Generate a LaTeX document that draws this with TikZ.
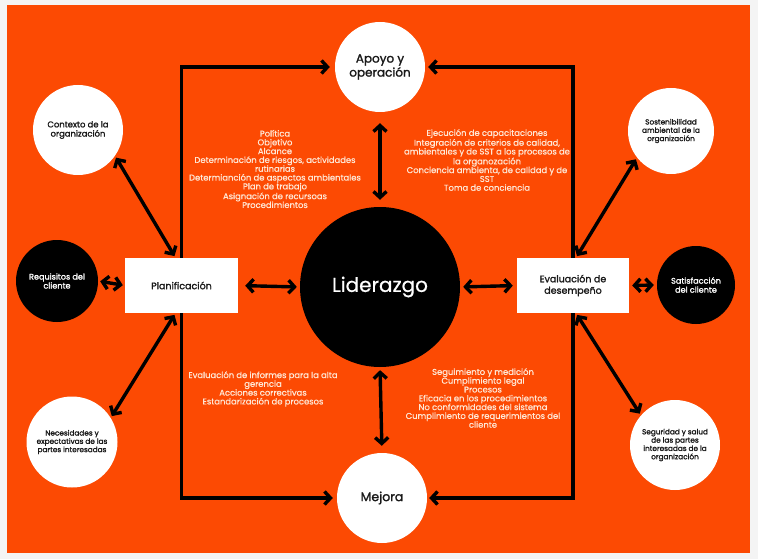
\documentclass[tikz,border=0pt]{standalone}
\usepackage{fontspec}
\setmainfont{Poppins}
\newfontfamily\medf{Poppins}[FakeBold=0.7]
\newfontfamily\semif{Poppins}[FakeBold=1.6]
\usetikzlibrary{arrows.meta,calc}
\definecolor{bgorange}{RGB}{252,74,3}
\definecolor{paletxt}{RGB}{255,232,214}
\definecolor{darktxt}{RGB}{25,25,25}
\definecolor{pagegray}{RGB}{244,244,244}
\tikzset{
  wcirc/.style={circle,fill=white,draw=none,align=center,text=darktxt,inner sep=0pt},
  bcirc/.style={circle,fill=black,draw=none,align=center,text=white,inner sep=0pt},
  wbox/.style={rectangle,fill=white,draw=none,align=center,text=darktxt,inner sep=0pt},
  smalllbl/.style={font=\semif\fontsize{7.3}{8.3}\selectfont},
  infotxt/.style={align=center,text=paletxt,font=\medf\fontsize{8.4}{8.8}\selectfont,inner sep=0pt},
  conn/.style={line width=3.4pt,draw=black},
  sarr/.style={conn,-{Straight Barb[length=6pt,width=13pt,line width=3.4pt]}},
  darr/.style={conn,{Straight Barb[length=6pt,width=13pt,line width=3.4pt]}-{Straight Barb[length=6pt,width=13pt,line width=3.4pt]}},
}
\begin{document}
\begin{tikzpicture}[x=1pt,y=-1pt]
\useasboundingbox (0,0) rectangle (758,559);
\fill[pagegray] (0,0) rectangle (758,559);
\fill[bgorange] (7,5) rectangle (750,553);

% main nodes
\node[wcirc,minimum size=90pt,font=\semif\fontsize{12}{14}\selectfont] (apoyo) at (380,67) {Apoyo y\\operación};
\node[bcirc,minimum size=160pt,font=\medf\fontsize{20}{22}\selectfont] (lid) at (380,287) {Liderazgo};
\node[wcirc,minimum size=90pt,font=\semif\fontsize{12.5}{14}\selectfont] (mejora) at (382,498) {Mejora};
\node[wbox,minimum width=113pt,minimum height=55pt,font=\semif\fontsize{9.5}{11.5}\selectfont] (plan) at (181.5,285.5) {Planificación};
\node[wbox,minimum width=112pt,minimum height=55pt,font=\semif\fontsize{9.5}{11.5}\selectfont] (eval) at (573,285.5) {Evaluación de\\desempeño};

% satellites
\node[wcirc,minimum size=90pt,font=\semif\fontsize{8.4}{9.2}\selectfont] (ctx) at (78,130) {Contexto de la\\organización};
\node[bcirc,minimum size=82pt,font=\semif\fontsize{8.1}{9}\selectfont] (req) at (57,281) {Requisitos del\\cliente};
\node[wcirc,smalllbl,minimum size=91pt] (nec) at (72,442) {Necesidades y\\expectativas de las\\partes interesadas};
\node[wcirc,smalllbl,minimum size=86pt] (sost) at (671,131) {Sostenibilidad\\ambiental de la\\organización};
\node[bcirc,minimum size=78pt,font=\semif\fontsize{8.1}{9}\selectfont] (sat) at (696,285) {Satisfacción\\del cliente};
\node[wcirc,smalllbl,minimum size=90pt] (seg) at (675,445) {Seguridad y salud\\de las partes\\interesadas de la\\organización};

% info texts
\node[infotxt] (t1) at (275,169) {Política\\Objetivo\\Alcance\\Determinación de riesgos, actividades\\rutinarias\\Determianción de aspectos ambientales\\Plan de trabajo\\Asignación de recursoas\\Procedimientos};
\node[infotxt] (t2) at (487,160) {Ejecución de capacitaciones\\Integración de criterios de calidad,\\ambientales y de SST a los procesos de\\la organozación\\Conciencia ambienta, de calidad y de\\SST\\Toma de conciencia};
\node[infotxt] (t3) at (263,389) {Evaluación de informes para la alta\\gerencia\\Acciones correctivas\\Estandarización de procesos};
\node[infotxt] (t4) at (483,398) {Seguimiento y medición\\Cumplimiento legal\\Procesos\\Eficacia en los procedimientos\\No conformidades del sistema\\Cumplimiento de requerimientos del\\cliente};

% elbow connectors
\draw[sarr,shorten >=5pt] (plan.north) |- (apoyo.west);
\draw[sarr,shorten >=3pt] (eval.north) |- (apoyo.east);
\draw[sarr,shorten >=4pt] (plan.south) |- (mejora.west);
\draw[sarr,shorten >=2pt] (eval.south) |- (mejora.east);

% straight double arrows
\draw[darr,shorten <=11pt,shorten >=7pt] (apoyo.south) -- (lid.north);
\draw[darr,shorten <=3pt,shorten >=7pt] (lid.south) -- (mejora.north);
\draw[darr,shorten <=7pt,shorten >=3pt] (plan.east) -- (lid.west);
\draw[darr,shorten <=3pt,shorten >=4pt] (lid.east) -- (eval.west);
\draw[darr,shorten <=2pt,shorten >=2pt] (req.east) -- (plan.west);
\draw[darr,shorten <=3pt,shorten >=3pt] (eval.east) -- (sat.west);

% diagonal double arrows
\draw[darr,shorten <=2pt,shorten >=2pt] (ctx.-35) -- ([xshift=-6pt]plan.north);
\draw[darr,shorten <=2pt,shorten >=2pt] (nec.32) -- ([xshift=-6pt]plan.south);
\draw[darr,shorten <=2pt,shorten >=2pt] (sost.218) -- ([xshift=3pt]eval.north);
\draw[darr,shorten <=2pt,shorten >=2pt] (seg.139) -- ([xshift=3pt]eval.south);
\end{tikzpicture}
\end{document}
